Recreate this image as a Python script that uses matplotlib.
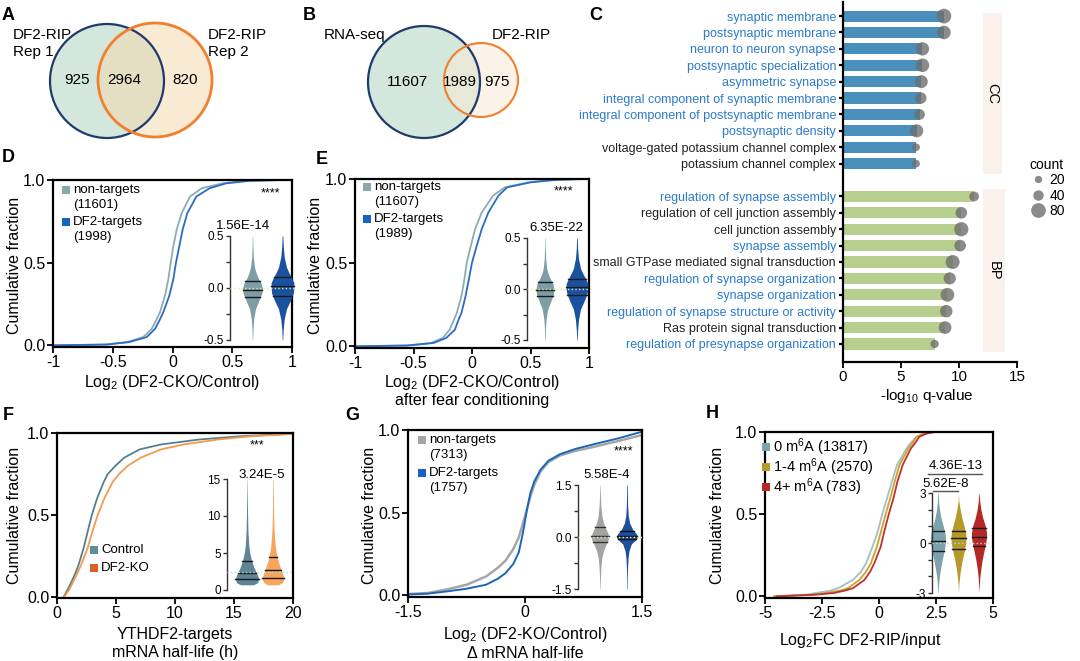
import matplotlib
matplotlib.use('Agg')
import matplotlib.pyplot as plt
from matplotlib.patches import Circle, Rectangle
from matplotlib.lines import Line2D
import numpy as np

plt.rcParams['font.family'] = ['Liberation Sans', 'DejaVu Sans']
plt.rcParams['mathtext.fontset'] = 'custom'
plt.rcParams['mathtext.rm'] = 'Liberation Sans'
plt.rcParams['mathtext.it'] = 'Liberation Sans:italic'
plt.rcParams['mathtext.bf'] = 'Liberation Sans:bold'

# ---------------- data ----------------
# A, B venn counts (left only, overlap, right only)
venn_a_counts = [925, 2964, 820]
venn_b_counts = [11607, 1989, 975]

# C: GO enrichment
cc_terms = ['synaptic membrane', 'postsynaptic membrane', 'neuron to neuron synapse',
            'postsynaptic specialization', 'asymmetric synapse',
            'integral component of synaptic membrane',
            'integral component of postsynaptic membrane', 'postsynaptic density',
            'voltage-gated potassium channel complex', 'potassium channel complex']
cc_q = [8.7, 8.7, 6.85, 6.85, 6.75, 6.7, 6.6, 6.35, 6.3, 6.3]
cc_count = [80, 68, 66, 68, 62, 50, 42, 64, 22, 22]
cc_blue = [1, 1, 1, 1, 1, 1, 1, 1, 0, 0]
bp_terms = ['regulation of synapse assembly', 'regulation of cell junction assembly',
            'cell junction assembly', 'synapse assembly',
            'small GTPase mediated signal transduction',
            'regulation of synapse organization', 'synapse organization',
            'regulation of synapse structure or activity',
            'Ras protein signal transduction', 'regulation of presynapse organization']
bp_q = [11.3, 10.2, 10.2, 10.1, 9.45, 9.2, 9.0, 8.9, 8.8, 7.9]
bp_count = [35, 50, 75, 50, 72, 55, 70, 58, 60, 25]
bp_blue = [1, 0, 0, 1, 0, 1, 1, 1, 0, 1]
count_legend = [20, 40, 80]

# D: cumulative curves (x at given cumulative fraction)
d_frac = [0.0, 0.005, 0.02, 0.05, 0.1, 0.15, 0.2, 0.3, 0.4, 0.5, 0.6, 0.7, 0.8, 0.9, 0.95, 0.98, 0.995, 1.0]
d_non_x = [-1.0, -0.55, -0.38, -0.245, -0.174, -0.138, -0.105, -0.063, -0.035, -0.015, 0.007, 0.035, 0.077, 0.146, 0.244, 0.42, 0.6, 0.9]
d_tar_x = [-1.0, -0.55, -0.36, -0.216, -0.146, -0.11, -0.077, -0.027, 0.007, 0.029, 0.057, 0.085, 0.124, 0.2, 0.31, 0.45, 0.65, 0.92]
d_vy = [-0.5, -0.4, -0.3, -0.2, -0.12, -0.05, 0.0, 0.05, 0.1, 0.15, 0.2, 0.3, 0.4, 0.5]
d_non_w = [0.02, 0.05, 0.12, 0.3, 0.65, 0.95, 1.0, 0.85, 0.55, 0.35, 0.2, 0.08, 0.04, 0.02]
d_tar_w = [0.02, 0.06, 0.15, 0.35, 0.7, 0.95, 1.0, 1.0, 0.8, 0.55, 0.35, 0.15, 0.07, 0.03]
d_non_q = [-0.09, -0.02, 0.07]
d_tar_q = [-0.08, 0.02, 0.11]

# E
e_frac = d_frac
e_non_x = [-1.0, -0.55, -0.35, -0.25, -0.19, -0.16, -0.13, -0.09, -0.065, -0.045, -0.01, 0.026, 0.083, 0.18, 0.28, 0.48, 0.7, 0.95]
e_tar_x = [-1.0, -0.55, -0.33, -0.22, -0.146, -0.12, -0.09, -0.055, -0.027, 0.0, 0.04, 0.083, 0.14, 0.226, 0.3, 0.5, 0.72, 0.95]
e_vy = d_vy
e_non_w = [0.02, 0.05, 0.12, 0.3, 0.65, 0.95, 1.0, 0.9, 0.6, 0.35, 0.2, 0.08, 0.04, 0.02]
e_tar_w = [0.02, 0.06, 0.14, 0.32, 0.65, 0.92, 1.0, 1.0, 0.8, 0.55, 0.33, 0.14, 0.06, 0.03]
e_non_q = [-0.07, -0.01, 0.07]
e_tar_q = [-0.06, 0.02, 0.1]

# F
f_frac = [0.0, 0.05, 0.1, 0.15, 0.2, 0.3, 0.4, 0.5, 0.6, 0.7, 0.75, 0.8, 0.85, 0.9, 0.93, 0.96, 0.98, 0.995]
f_ctrl_x = [0.56, 0.93, 1.27, 1.58, 1.84, 2.26, 2.6, 2.95, 3.39, 3.95, 4.3, 4.95, 5.7, 7.0, 8.8, 12.0, 15.5, 20.0]
f_ko_x = [0.6, 1.07, 1.41, 1.75, 2.06, 2.6, 3.0, 3.45, 4.0, 4.7, 5.25, 6.0, 7.1, 8.8, 10.7, 13.6, 16.4, 20.0]
f_vy = [0.7, 1.0, 1.5, 2.0, 3.0, 4.0, 5.0, 6.0, 8.0, 10.0, 12.0, 15.0]
f_ctrl_w = [0.55, 0.9, 1.0, 0.9, 0.6, 0.38, 0.24, 0.15, 0.08, 0.05, 0.03, 0.01]
f_ko_w = [0.5, 0.85, 1.0, 0.92, 0.68, 0.45, 0.3, 0.2, 0.1, 0.06, 0.04, 0.02]
f_ctrl_q = [1.55, 2.3, 3.9]
f_ko_q = [1.6, 2.7, 4.4]

# G
g_x = [-1.5, -1.25, -1.0, -0.75, -0.5, -0.35, -0.25, -0.15, -0.08, -0.03, 0.0, 0.03,
       0.07, 0.12, 0.2, 0.3, 0.45, 0.65, 0.9, 1.2, 1.5]
g_non_f = [0.008, 0.014, 0.036, 0.064, 0.114, 0.166, 0.21, 0.28, 0.35, 0.43, 0.48, 0.53,
           0.6, 0.67, 0.75, 0.806, 0.846, 0.874, 0.9, 0.934, 0.97]
g_tar_f = [0.005, 0.01, 0.024, 0.04, 0.064, 0.1, 0.134, 0.19, 0.26, 0.37, 0.45, 0.53,
           0.62, 0.69, 0.76, 0.814, 0.854, 0.886, 0.916, 0.95, 0.99]
g_vy = [-1.5, -1.2, -0.9, -0.6, -0.4, -0.2, -0.1, 0.0, 0.1, 0.2, 0.4, 0.6, 0.9, 1.2, 1.5]
g_non_w = [0.02, 0.05, 0.1, 0.2, 0.38, 0.7, 0.9, 1.0, 0.9, 0.72, 0.4, 0.22, 0.1, 0.05, 0.02]
g_tar_w = [0.02, 0.03, 0.05, 0.1, 0.18, 0.4, 0.75, 1.0, 0.85, 0.55, 0.25, 0.12, 0.06, 0.04, 0.03]
g_non_q = [-0.15, 0.03, 0.3]
g_tar_q = [-0.06, 0.02, 0.18]

# H
h_frac = [0.0, 0.01, 0.02, 0.035, 0.05, 0.1, 0.15, 0.2, 0.3, 0.4, 0.5, 0.6, 0.7, 0.8,
          0.9, 0.93, 0.97, 0.99, 1.0]
h0_x = [-4.6, -3.2, -2.79, -2.14, -1.79, -1.14, -0.79, -0.57, -0.29, -0.04, 0.14, 0.36,
        0.57, 0.79, 1.21, 1.36, 1.64, 2.07, 2.5]
h1_x = [-4.6, -2.9, -2.4, -1.7, -1.36, -0.86, -0.57, -0.36, -0.1, 0.1, 0.29, 0.5,
        0.69, 0.9, 1.29, 1.46, 1.64, 1.93, 2.4]
h4_x = [-4.5, -2.8, -2.0, -1.5, -1.14, -0.64, -0.39, -0.21, 0.07, 0.24, 0.43, 0.64,
        0.81, 1.04, 1.4, 1.57, 1.76, 2.07, 2.4]
h_vy = [-3.0, -2.5, -2.0, -1.5, -1.0, -0.5, 0.0, 0.3, 0.6, 1.0, 1.5, 2.0, 2.5, 3.0]
h0_w = [0.02, 0.08, 0.18, 0.35, 0.55, 0.8, 0.97, 1.0, 0.92, 0.7, 0.4, 0.2, 0.08, 0.03]
h1_w = [0.0, 0.05, 0.15, 0.3, 0.5, 0.75, 0.95, 1.0, 0.95, 0.75, 0.45, 0.22, 0.05, 0.0]
h4_w = [0.0, 0.05, 0.12, 0.25, 0.42, 0.65, 0.88, 0.98, 1.0, 0.85, 0.5, 0.25, 0.1, 0.02]
h0_q = [-0.5, 0.1, 0.73]
h1_q = [-0.35, 0.3, 0.73]
h4_q = [-0.2, 0.37, 0.93]

# ---------------- figure ----------------
W, H = 1080, 661
fig = plt.figure(figsize=(W / 100, H / 100), dpi=100)


def px_axes(x0, y0, x1, y1, **kw):
    return fig.add_axes([x0 / W, 1 - y1 / H, (x1 - x0) / W, (y1 - y0) / H], **kw)


def cdf_axes(x0, y0, x1, y1, xlim, xticks, xlabels, ylim=(-0.01, 1.0)):
    ax = px_axes(x0, y0, x1, y1)
    ax.set_xlim(xlim)
    ax.set_ylim(ylim)
    ax.set_xticks(xticks)
    ax.set_xticklabels(xlabels, fontsize=11.5)
    ax.set_yticks([0, 0.5, 1.0])
    ax.set_yticklabels(['0.0', '0.5', '1.0'], fontsize=11.5)
    for s in ax.spines.values():
        s.set_linewidth(1.6)
    ax.tick_params(length=4, width=1.3, pad=1.5)
    return ax


def inset(x0, y0, x1, y1, xlim, ylim, yticks, ylabels):
    ax = px_axes(x0, y0, x1, y1)
    ax.set_xlim(xlim)
    ax.set_ylim(ylim)
    for s in ['top', 'right', 'bottom']:
        ax.spines[s].set_visible(False)
    ax.spines['left'].set_linewidth(1.0)
    ax.spines['left'].set_color('#333333')
    ax.set_xticks([])
    ax.set_yticks(yticks)
    ax.set_yticklabels(ylabels, fontsize=8.5)
    ax.tick_params(axis='y', length=3, width=1, pad=1.5, color='#333333')
    ax.patch.set_alpha(0)
    return ax


def violin(ax, pos, ys, widths, maxw, quart, color, qcolor='#1a1a1a'):
    w = np.array(widths) * maxw
    ax.fill_betweenx(ys, pos - w, pos + w, color=color, lw=0, clip_on=False)
    for q in quart:
        hw = np.interp(q, ys, w)
        ax.plot([pos - hw, pos + hw], [q, q], color=qcolor, lw=1, clip_on=False)


def refline(ax, y, color):
    ax.axhline(y, color=color, lw=1, ls=':', zorder=3)


# ---- C ----
axc = px_axes(843, 2, 1017, 362)
cc_pos = np.arange(len(cc_terms))
bp_pos = np.arange(len(bp_terms)) + len(cc_terms) + 1
axc.add_patch(Rectangle((12.05, -0.2), 1.65, 9.85, color='#fbf1ec', lw=0))
axc.add_patch(Rectangle((12.05, 10.55), 1.9, 9.95, color='#fbf1ec', lw=0))
axc.text(12.9, 4.7, 'CC', rotation=-90, ha='center', va='center', fontsize=10.5)
axc.text(13.0, 15.55, 'BP', rotation=-90, ha='center', va='center', fontsize=10.5)
axc.barh(cc_pos, cc_q, height=0.68, color='#4a90bd', zorder=2)
axc.barh(bp_pos, bp_q, height=0.68, color='#b6cf8e', zorder=2)
axc.scatter(cc_q, cc_pos, s=np.array(cc_count) * 1.4, color='#6e6e6e', alpha=0.8, lw=0, zorder=3)
axc.scatter(bp_q, bp_pos, s=np.array(bp_count) * 1.4, color='#6e6e6e', alpha=0.8, lw=0, zorder=3)
axc.set_xlim(0, 15)
axc.set_ylim(21.1, -0.86)
axc.set_yticks(list(cc_pos) + list(bp_pos))
axc.set_yticklabels(cc_terms + bp_terms, fontsize=9)
for lab, b in zip(axc.get_yticklabels(), cc_blue + bp_blue):
    lab.set_color('#2b7bca' if b else '#222222')
axc.set_xticks([0, 5, 10, 15])
axc.set_xticklabels(['0', '5', '10', '15'], fontsize=11)
for s in ['top', 'right']:
    axc.spines[s].set_visible(False)
for s in ['left', 'bottom']:
    axc.spines[s].set_linewidth(1.6)
axc.tick_params(axis='y', length=3, width=1.6, pad=2)
axc.tick_params(axis='x', length=4, width=1.3, pad=1.5)
axc.patch.set_alpha(0)
handles = [Line2D([], [], marker='o', ls='', color='#6e6e6e', alpha=0.8, mec='none',
                  markersize=np.sqrt(c * 1.4)) for c in count_legend]
fig.legend(handles, [str(c) for c in count_legend], title='count', loc='upper left',
           bbox_to_anchor=(1020 / W, 1 - 148 / H), frameon=False, fontsize=10,
           title_fontsize=10, labelspacing=0.1, handletextpad=0.2, handlelength=1.2,
           borderpad=0.2, alignment='left')

# ---- D ----
axd = cdf_axes(53, 180, 292, 347, (-1, 1), [-1, -0.5, 0, 0.5, 1], ['-1', '-0.5', '0', '0.5', '1'])
axd.plot(d_non_x, d_frac, color='#8eabb3', lw=1.3)
axd.plot(d_tar_x, d_frac, color='#2a6cc2', lw=1.3)
ind = inset(230, 236, 295, 340, (0.25, 2.417), (-0.5, 0.5), [-0.5, -0.25, 0, 0.25, 0.5],
            ['-0.5', '', '0.0', '', '0.5'])
refline(ind, 0, '#ece2a8')
violin(ind, 1, d_vy, d_non_w, 0.33, d_non_q, '#7e9ea6')
violin(ind, 2, d_vy, d_tar_w, 0.38, d_tar_q, '#1a52a0')

# ---- E ----
axe = cdf_axes(355, 179, 589, 348, (-1, 1), [-1, -0.5, 0, 0.5, 1], ['-1', '-0.5', '0', '0.5', '1'])
axe.plot(e_non_x, e_frac, color='#8eabb3', lw=1.3)
axe.plot(e_tar_x, e_frac, color='#2a6cc2', lw=1.3)
ine = inset(527, 238, 592, 340, (0.4375, 2.47), (-0.5, 0.5), [-0.5, -0.25, 0, 0.25, 0.5],
            ['-0.5', '', '0.0', '', '0.5'])
refline(ine, 0, '#ece2a8')
violin(ine, 1, e_vy, e_non_w, 0.28, e_non_q, '#7e9ea6')
violin(ine, 2, e_vy, e_tar_w, 0.34, e_tar_q, '#1a52a0')

# ---- F ----
axf = cdf_axes(57, 433, 293, 598, (0, 20), [0, 5, 10, 15, 20], ['0', '5', '10', '15', '20'],
               ylim=(-0.005, 1.0))
axf.plot(f_ctrl_x, f_frac, color='#557f8f', lw=1.3)
axf.plot(f_ko_x, f_frac, color='#f39a4c', lw=1.3)
inf = inset(227, 479, 292, 590, (0.23, 2.73), (0, 15), [0, 5, 10, 15], ['0', '5', '10', '15'])
refline(inf, 2.4, '#a8e4e4')
violin(inf, 1, f_vy, f_ctrl_w, 0.45, f_ctrl_q, '#5d8595')
violin(inf, 2, f_vy, f_ko_w, 0.42, f_ko_q, '#f6a55a')

# ---- G ----
axg = cdf_axes(408, 430, 642, 597, (-1.5, 1.5), [-1.5, 0, 1.5], ['-1.5', '0', '1.5'])
axg.plot(g_x, g_non_f, color='#a6a6a6', lw=1.8)
axg.plot(g_x, g_tar_f, color='#1a66b8', lw=1.4)
ing = inset(578, 485, 642, 589, (0.185, 2.555), (-1.5, 1.5), [-1.5, -0.75, 0, 0.75, 1.5],
            ['-1.5', '', '0.0', '', '1.5'])
refline(ing, 0, '#eeecc0')
violin(ing, 1, g_vy, g_non_w, 0.33, g_non_q, '#a3a3a3', '#333333')
violin(ing, 2, g_vy, g_tar_w, 0.40, g_tar_q, '#1c4f9c', '#111111')

# ---- H ----
axh = cdf_axes(765, 432, 993, 598, (-5, 5), [-5, -2.5, 0, 2.5, 5], ['-5', '-2.5', '0', '2.5', '5'])
axh.plot(h0_x, h_frac, color='#a3bec8', lw=1.3)
axh.plot(h1_x, h_frac, color='#c9a526', lw=1.3)
axh.plot(h4_x, h_frac, color='#c0302e', lw=1.3)
inh = inset(932, 493, 992, 593, (0.707, 3.634), (-3, 3), [-3, -2, -1, 0, 1, 2, 3],
            ['-3', '', '', '0', '', '', '3'])
refline(inh, 0, '#cccccc')
violin(inh, 1, h_vy, h0_w, 0.37, h0_q, '#7da2ae')
violin(inh, 2, h_vy, h1_w, 0.37, h1_q, '#b59a2b')
violin(inh, 3, h_vy, h4_w, 0.37, h4_q, '#b52828')

# ---------------- overlay: venns, letters, labels ----------------
ov = fig.add_axes([0, 0, 1, 1], zorder=10)
ov.set_xlim(0, W)
ov.set_ylim(H, 0)
ov.axis('off')
ov.patch.set_alpha(0)


def txt(x, y, s, size=11, ha='left', va='center', **kw):
    ov.text(x, y, s, fontsize=size, ha=ha, va=va, **kw)


def key(x, y, color, label, size=9.5, dy=15):
    ov.add_patch(Rectangle((x, y - 4), 8, 8, color=color, lw=0))
    for i, line in enumerate(label.split('\n')):
        txt(x + 11, y + i * dy, line, size=size)


# venn A
ov.add_patch(Circle((107, 81), 57, facecolor='#a8d0bd', alpha=0.5, lw=0))
ov.add_patch(Circle((155, 80), 57, facecolor='#f5d7a8', alpha=0.5, lw=0))
ov.add_patch(Circle((107, 81), 57, facecolor='none', edgecolor='#1f3a6e', lw=1.6))
ov.add_patch(Circle((155, 80), 57, facecolor='none', edgecolor='#f07f2e', lw=2.0))
txt(13, 35, 'DF2-RIP', size=11)
txt(13, 52, 'Rep 1', size=11)
txt(208, 35, 'DF2-RIP', size=11)
txt(208, 52, 'Rep 2', size=11)
for xc, n in zip([77, 124, 185], venn_a_counts):
    txt(xc, 80, str(n), ha='center', size=11)

# venn B
ov.add_patch(Circle((424, 82), 56, facecolor='#a8d0bd', alpha=0.5, lw=0))
ov.add_patch(Circle((481, 80), 37, facecolor='#fbe9d2', alpha=0.5, lw=0))
ov.add_patch(Circle((424, 82), 56, facecolor='none', edgecolor='#1f3a6e', lw=1.6))
ov.add_patch(Circle((481, 80), 37, facecolor='none', edgecolor='#f07f2e', lw=1.5))
txt(355, 35, 'RNA-seq', ha='center', size=11)
txt(492, 35, 'DF2-RIP', size=11)
for xc, n in zip([407, 460, 497], venn_b_counts):
    txt(xc, 82, str(n), ha='center', size=11)

# panel letters
for lab, x, y in [('A', 8, 15), ('B', 309, 15), ('C', 596, 15), ('D', 8, 157),
                  ('E', 322, 159), ('F', 8, 416), ('G', 352, 416), ('H', 712, 414)]:
    txt(x, y, lab, size=13, ha='center', weight='bold')

# C x label
txt(927, 396, '-log$_{10}$ q-value', ha='center', size=11)

# D
key(62, 190, '#8ba7ae', 'non-targets\n(11601)')
key(62, 222, '#1565c0', 'DF2-targets\n(1998)')
txt(270, 193, '****', ha='center', size=9)
txt(243, 226, '1.56E-14', ha='center', size=9.5)
txt(15, 265, 'Cumulative fraction', ha='center', size=11.5, rotation=90)
txt(172, 383, 'Log$_2$ (DF2-CKO/Control)', ha='center', size=11.5)

# E
key(363, 187, '#8ba7ae', 'non-targets\n(11607)')
key(363, 219, '#1565c0', 'DF2-targets\n(1989)')
txt(563, 191, '****', ha='center', size=9)
txt(556, 228, '6.35E-22', ha='center', size=9.5)
txt(315, 265, 'Cumulative fraction', ha='center', size=11.5, rotation=90)
txt(472, 383, 'Log$_2$ (DF2-CKO/Control)', ha='center', size=11.5)
txt(472, 401, 'after fear conditioning', ha='center', size=11.5)

# F
key(90, 550, '#5f8b9b', 'Control')
key(90, 568, '#d85f2a', 'DF2-KO')
txt(257, 445, '***', ha='center', size=9)
txt(262, 475, '3.24E-5', ha='center', size=9.5)
txt(15, 515, 'Cumulative fraction', ha='center', size=11.5, rotation=90)
txt(175, 635, 'YTHDF2-targets', ha='center', size=11.5)
txt(175, 653, 'mRNA half-life (h)', ha='center', size=11.5)

# G
key(418, 440, '#a6a6a6', 'non-targets\n(7313)')
key(418, 473, '#1565c0', 'DF2-targets\n(1757)')
txt(623, 451, '****', ha='center', size=9)
txt(607, 475, '5.58E-4', ha='center', size=9.5)
txt(370, 515, 'Cumulative fraction', ha='center', size=11.5, rotation=90)
txt(525, 635, 'Log$_2$ (DF2-KO/Control)', ha='center', size=11.5)
txt(525, 653, 'Δ mRNA half-life', ha='center', size=11.5)

# H
key(762, 447, '#7da2ae', '0 m$^6$A (13817)', size=10.5)
key(762, 467, '#b59a2b', '1-4 m$^6$A (2570)', size=10.5)
key(762, 487, '#b52828', '4+ m$^6$A (783)', size=10.5)
ov.plot([928, 982], [474, 474], color='#555555', lw=1)
ov.plot([933, 958], [491, 491], color='#555555', lw=1)
txt(956, 466, '4.36E-13', ha='center', size=9.5)
txt(946, 484, '5.62E-8', ha='center', size=9.5)
txt(717, 515, 'Cumulative fraction', ha='center', size=11.5, rotation=90)
txt(860, 640, 'Log$_2$FC DF2-RIP/input', ha='center', size=11.5)

fig.savefig('out.png', dpi=100)
